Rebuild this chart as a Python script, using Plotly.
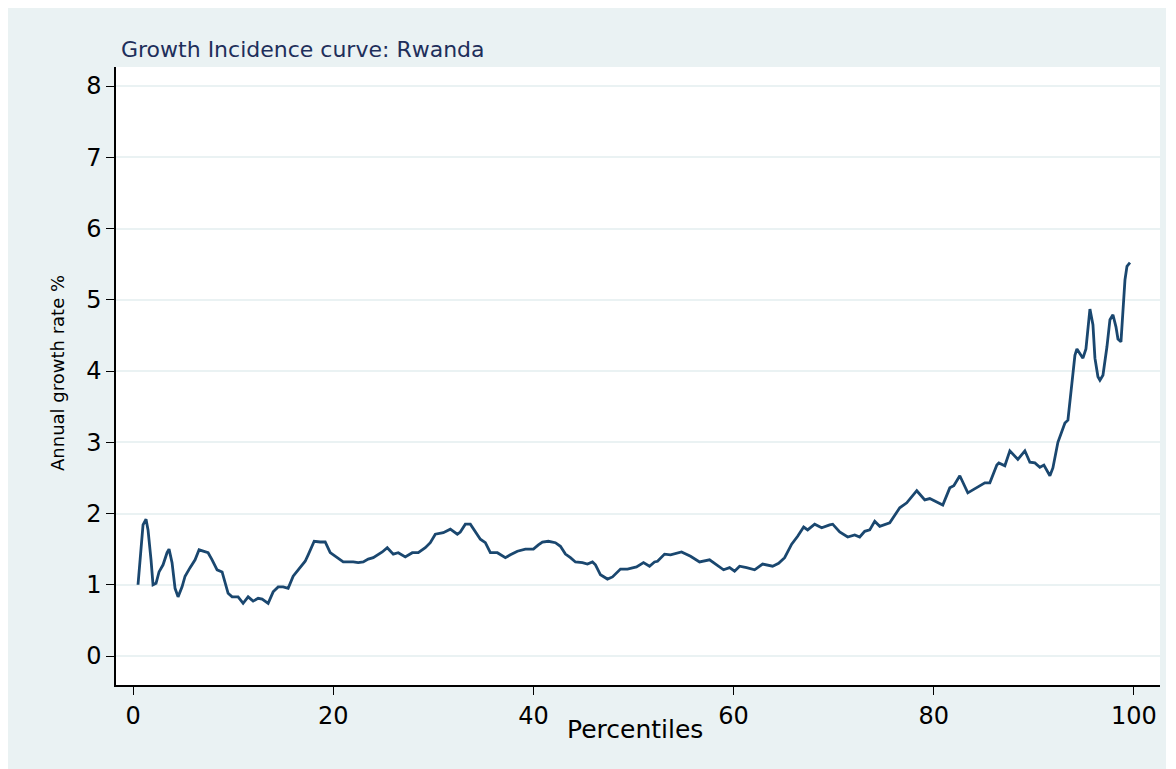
import plotly.graph_objects as go

# Percentile (x) and annual growth rate % (y)
percentiles = [
    0.5, 0.8, 1.0, 1.3, 1.5, 1.8, 2.0, 2.3, 2.6, 3.0, 3.4, 3.6, 3.9, 4.2, 4.5, 4.9,
    5.2, 5.7, 6.2, 6.6, 7.0, 7.5, 7.9, 8.4, 8.9, 9.2, 9.5, 9.9, 10.2, 10.5, 11.0,
    11.5, 12.0, 12.5, 12.9, 13.5, 14.0, 14.5, 15.0, 15.5, 16.0, 16.7, 17.2, 17.5,
    18.1, 18.7, 19.2, 19.7, 20.2, 21.0, 22.0, 22.5, 23.0, 23.5, 24.0, 24.9, 25.4,
    26.0, 26.5, 27.2, 27.9, 28.5, 29.2, 29.7, 30.2, 31.0, 31.7, 32.4, 32.7, 33.2,
    33.7, 34.2, 34.7, 35.2, 35.7, 36.4, 37.2, 37.7, 38.4, 39.2, 40.0, 40.5, 40.9,
    41.5, 42.2, 42.7, 43.2, 43.7, 44.2, 44.9, 45.4, 45.9, 46.2, 46.7, 47.4, 47.9,
    48.7, 49.4, 50.3, 51.0, 51.6, 52.1, 52.4, 53.1, 53.7, 54.8, 55.7, 56.6, 57.6,
    59.0, 59.6, 60.1, 60.6, 61.3, 62.1, 62.9, 63.9, 64.5, 65.1, 65.8, 66.4, 67.0,
    67.4, 68.1, 68.8, 69.6, 69.9, 70.6, 71.4, 72.1, 72.6, 73.1, 73.6, 74.1, 74.6,
    75.6, 76.6, 77.3, 78.3, 79.1, 79.6, 80.9, 81.6, 82.0, 82.6, 83.4, 84.3, 85.1,
    85.6, 86.3, 86.5, 87.1, 87.6, 88.4, 89.1, 89.6, 90.1, 90.6, 91.0, 91.6, 91.9,
    92.4, 93.1, 93.4, 93.8, 94.1, 94.3, 94.9, 95.2, 95.6, 95.9, 96.1, 96.4, 96.6,
    96.9, 97.3, 97.6, 97.9, 98.2, 98.4, 98.7, 98.9, 99.1, 99.3, 99.6,
]
growth_rate = [
    1.00, 1.52, 1.84, 1.92, 1.77, 1.35, 1.00, 1.02, 1.18, 1.28, 1.45, 1.50, 1.31,
    0.95, 0.83, 0.97, 1.12, 1.24, 1.35, 1.49, 1.47, 1.45, 1.35, 1.21, 1.18, 1.04,
    0.88, 0.83, 0.83, 0.83, 0.74, 0.83, 0.77, 0.81, 0.80, 0.74, 0.90, 0.97, 0.97,
    0.95, 1.12, 1.24, 1.33, 1.42, 1.61, 1.60, 1.60, 1.45, 1.40, 1.32, 1.32, 1.31,
    1.32, 1.36, 1.38, 1.46, 1.52, 1.43, 1.45, 1.39, 1.45, 1.45, 1.52, 1.59, 1.71,
    1.73, 1.78, 1.71, 1.74, 1.85, 1.85, 1.74, 1.64, 1.59, 1.45, 1.45, 1.38, 1.42,
    1.47, 1.50, 1.50, 1.56, 1.60, 1.61, 1.59, 1.54, 1.43, 1.38, 1.32, 1.31, 1.29,
    1.32, 1.28, 1.14, 1.08, 1.11, 1.22, 1.22, 1.25, 1.31, 1.26, 1.32, 1.33, 1.43,
    1.42, 1.46, 1.40, 1.32, 1.35, 1.21, 1.24, 1.19, 1.26, 1.24, 1.21, 1.29, 1.26,
    1.30, 1.38, 1.57, 1.68, 1.81, 1.77, 1.85, 1.80, 1.84, 1.85, 1.74, 1.67, 1.70,
    1.67, 1.75, 1.77, 1.89, 1.82, 1.87, 2.08, 2.15, 2.32, 2.19, 2.21, 2.12, 2.36,
    2.39, 2.53, 2.29, 2.37, 2.43, 2.43, 2.68, 2.71, 2.67, 2.88, 2.76, 2.88, 2.72,
    2.71, 2.65, 2.68, 2.53, 2.64, 3.00, 3.27, 3.31, 3.83, 4.22, 4.31, 4.18, 4.31,
    4.87, 4.65, 4.18, 3.92, 3.87, 3.94, 4.34, 4.72, 4.79, 4.62, 4.45, 4.41, 4.81,
    5.28, 5.47, 5.52,
]
x_ticks = [0, 20, 40, 60, 80, 100]
y_ticks = [0, 1, 2, 3, 4, 5, 6, 7, 8]

BG = "#EAF2F3"
LINE = "#1A476F"
FONT = "DejaVu Sans, Liberation Sans, Arial, sans-serif"

fig = go.Figure()
fig.add_trace(go.Scatter(
    x=percentiles, y=growth_rate, mode="lines",
    line=dict(color=LINE, width=2.8), showlegend=False,
))

# Figure is placed at (8, 8) on the page by the default body margin
W, H = 1158, 761
L, R, T, B = 108, 6, 59, 84
pw, ph = W - L - R, H - T - B
PLOT_LEFT, PLOT_BOTTOM = 116, 685  # screen pixels


def px_x(p):
    return (p - PLOT_LEFT) / pw


def px_y(p):
    return (PLOT_BOTTOM - p) / ph


fig.update_layout(
    width=W, height=H,
    margin=dict(l=L, r=R, t=T, b=B, pad=0),
    paper_bgcolor=BG, plot_bgcolor="white",
    font=dict(family=FONT, color="black"),
    xaxis=dict(
        range=[-1.7, 102.6], tickvals=x_ticks, ticks="outside", ticklen=8,
        tickwidth=1.2, tickcolor="black", showline=True, linecolor="black",
        linewidth=1.5, showgrid=False, zeroline=False,
        tickfont=dict(size=24, family=FONT, color="black"),
    ),
    yaxis=dict(
        range=[-0.407, 8.267], tickvals=y_ticks, ticks="outside", ticklen=8,
        tickwidth=1.2, tickcolor="black", showline=True, linecolor="black",
        linewidth=1.5, showgrid=True, gridcolor=BG, gridwidth=2, zeroline=False,
        tickfont=dict(size=24, family=FONT, color="black"),
    ),
    annotations=[
        dict(text="Growth Incidence curve: Rwanda", xref="paper", yref="paper",
             x=px_x(119), y=px_y(50), xanchor="left", yanchor="middle",
             showarrow=False, font=dict(size=22, family=FONT, color="#1E2F5B")),
        dict(text="Percentiles", xref="paper", yref="paper",
             x=px_x(635), y=px_y(729), xanchor="center", yanchor="middle",
             showarrow=False, font=dict(size=25, family=FONT, color="black")),
        dict(text="Annual growth rate %", xref="paper", yref="paper",
             x=px_x(57), y=px_y(373), xanchor="center", yanchor="middle",
             textangle=-90, showarrow=False,
             font=dict(size=18, family=FONT, color="black")),
    ],
)

fig.write_html("out.html")
